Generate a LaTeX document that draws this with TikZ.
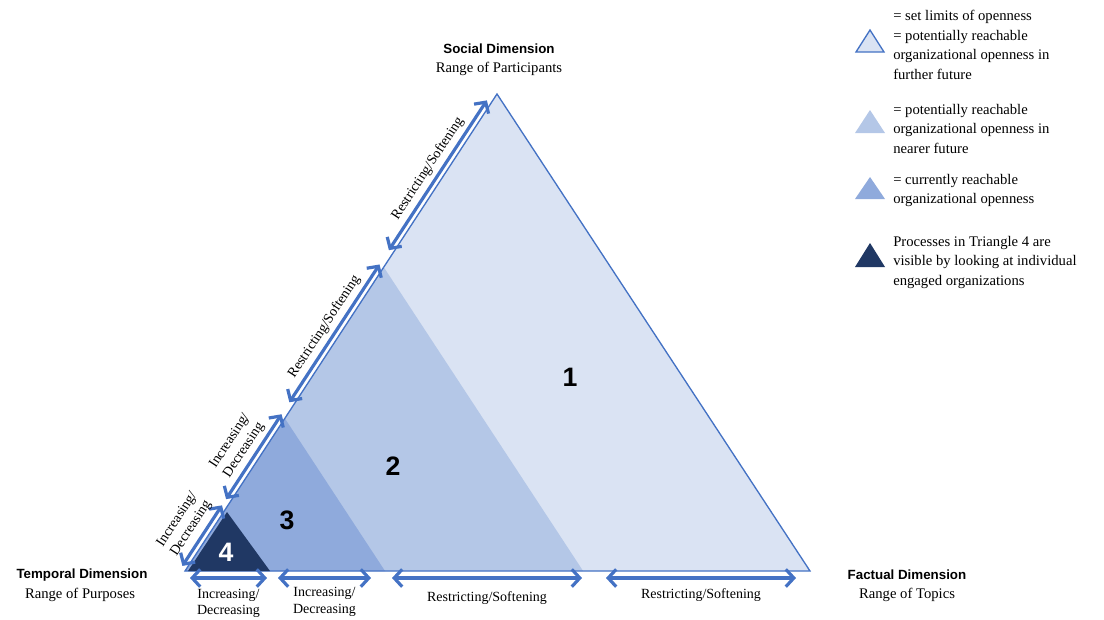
\documentclass[tikz,border=0pt]{standalone}
\usepackage{fontspec}
\setmainfont{Liberation Serif}
\setsansfont{Liberation Sans}
\usetikzlibrary{arrows.meta,calc}

\definecolor{edgeblue}{HTML}{4472C4}
\definecolor{limitfill}{HTML}{DAE3F3}
\definecolor{nearfill}{HTML}{B4C7E7}
\definecolor{nowfill}{HTML}{8FAADC}
\definecolor{orgfill}{HTML}{203864}

\tikzset{
 dimtitle/.style={font=\sffamily\bfseries\fontsize{10}{12}\selectfont},
 dimrange/.style={font=\fontsize{11}{13}\selectfont},
 twoway/.style={draw=edgeblue,line width=2.4pt,
   {Straight Barb[length=6pt,width=13pt]}-{Straight Barb[length=6pt,width=13pt]}},
 twolabel/.style={font=\fontsize{10.5}{12.5}\selectfont,align=center,inner sep=2pt},
 areanum/.style={font=\sffamily\bfseries\fontsize{20}{24}\selectfont},
 legtext/.style={font=\fontsize{11}{14.6}\selectfont,align=left,anchor=north west,inner sep=0pt},
}

\begin{document}
\begin{tikzpicture}[x=0.75pt,y=-0.75pt]
 \useasboundingbox (0,0) rectangle (1104,619);
 \coordinate (L) at (185,571);
 \coordinate (T) at (497,94);
 \coordinate (R) at (810,571);
 \coordinate (T2) at ($(L)!0.637!(T)$);
 \coordinate (R2) at ($(L)!0.637!(R)$);
 \coordinate (T3) at ($(L)!0.32!(T)$);
 \coordinate (R3) at ($(L)!0.32!(R)$);

 % nested areas of openness
 \fill[limitfill] (L) -- (T) -- (R) -- cycle;
 \fill[nearfill] (L) -- (T2) -- (R2) -- cycle;
 \fill[nowfill] (L) -- (T3) -- (R3) -- cycle;
 \draw[edgeblue,line width=1pt] (L) -- (T) -- (R) -- cycle;
 \fill[orgfill] (188,571) -- (227,512) -- (270,571) -- cycle;

 \node[areanum] (one) at (570,377) {1};
 \node[areanum] (two) at (393,466) {2};
 \node[areanum] (three) at (287,520) {3};
 \node[areanum,text=white] (four) at (226,552) {4};

 % arrows along the social edge
 \coordinate (s0) at ($(L)!0.005!(T)+(-4.2,-2.7)$);
 \coordinate (s1) at ($(L)!0.132!(T)+(-4.2,-2.7)$);
 \coordinate (s2) at ($(L)!0.145!(T)+(-4.2,-2.7)$);
 \coordinate (s3) at ($(L)!0.323!(T)+(-4.2,-2.7)$);
 \coordinate (s4) at ($(L)!0.348!(T)+(-4.2,-2.7)$);
 \coordinate (s5) at ($(L)!0.637!(T)+(-4.2,-2.7)$);
 \coordinate (s6) at ($(L)!0.667!(T)+(-4.2,-2.7)$);
 \coordinate (s7) at ($(L)!0.981!(T)+(-4.2,-2.7)$);
 \draw[twoway] (s0) -- node[twolabel,sloped,above=2pt] {Increasing/\\Decreasing} (s1);
 \draw[twoway] (s2) -- node[twolabel,sloped,above=1pt] {Increasing/\\Decreasing} (s3);
 \draw[twoway] (s4) -- node[twolabel,sloped,above=1pt] {Restricting/Softening} (s5);
 \draw[twoway] (s6) -- node[twolabel,sloped,above=1pt] {Restricting/Softening} (s7);

 % arrows along the factual edge
 \coordinate (f0) at (190,578);
 \coordinate (f1) at (267,578);
 \coordinate (f2) at (278,578);
 \coordinate (f3) at (371,578);
 \coordinate (f4) at (392,578);
 \coordinate (f5) at (582,578);
 \coordinate (f6) at (606,578);
 \coordinate (f7) at (796,578);
 \draw[twoway] (f0) -- node[twolabel,below=5pt] {Increasing/\\Decreasing} (f1);
 \draw[twoway] (f2) -- node[twolabel,below=4pt] {Increasing/\\Decreasing} (f3);
 \draw[twoway] (f4) -- node[twolabel,below=7pt] {Restricting/Softening} (f5);
 \draw[twoway] (f6) -- node[twolabel,below=5pt] {Restricting/Softening} (f7);

 % dimensions
 \node[dimtitle] (social) at (499,49) {Social Dimension};
 \node[dimrange] (socialrange) at (499,69) {Range of Participants};
 \node[dimtitle] (temporal) at (82,575) {Temporal Dimension};
 \node[dimrange] (temporalrange) at (80,595) {Range of Purposes};
 \node[dimtitle] (factual) at (907,575) {Factual Dimension};
 \node[dimrange] (factualrange) at (907,595) {Range of Topics};

 % legend
 \draw[edgeblue,fill=limitfill,line width=1pt] (856,52) -- (870,30) -- (884,52) -- cycle;
 \fill[nearfill] (855,133) -- (870,110) -- (885,133) -- cycle;
 \fill[nowfill] (855,199) -- (870,177) -- (885,199) -- cycle;
 \fill[orgfill] (855,267) -- (870,243) -- (885,267) -- cycle;
 \node[legtext] (leglimit) at (893,10) {= set limits of openness\\= potentially reachable\\organizational openness in\\further future};
 \node[legtext] (legnear) at (893,104) {= potentially reachable\\organizational openness in\\nearer future};
 \node[legtext] (legnow) at (893,174) {= currently reachable\\organizational openness};
 \node[legtext] (legorg) at (893,236) {Processes in Triangle 4 are\\visible by looking at individual\\engaged organizations};
\end{tikzpicture}
\end{document}
